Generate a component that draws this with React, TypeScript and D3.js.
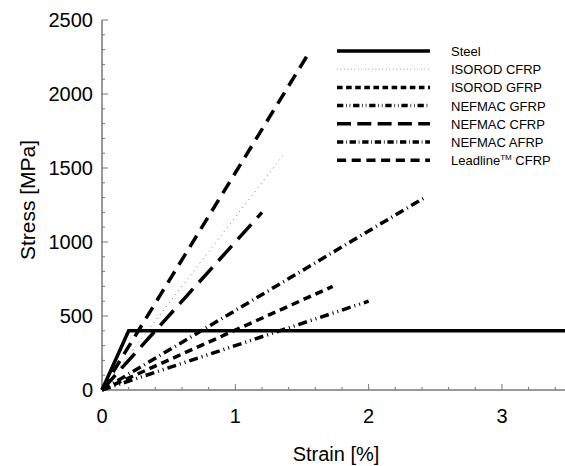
import { useRef, useEffect } from 'react';
import * as d3 from 'd3';

// series: [strain %, stress MPa]
const seriesNames = ['Steel', 'ISOROD CFRP', 'ISOROD GFRP', 'NEFMAC GFRP', 'NEFMAC CFRP', 'NEFMAC AFRP', 'Leadline CFRP'];
const steel = [[0, 0], [0.2, 400], [3.5, 400]];
const isorodCfrp = [[0, 0], [1.37, 1600]];
const isorodGfrp = [[0, 0], [1.73, 700]];
const nefmacGfrp = [[0, 0], [2.0, 600]];
const nefmacCfrp = [[0, 0], [1.2, 1200]];
const nefmacAfrp = [[0, 0], [2.42, 1300]];
const leadlineCfrp = [[0, 0], [1.54, 2260]];
const xTicks = [0, 1, 2, 3];
const yTicks = [0, 500, 1000, 1500, 2000, 2500];

const styles = [
  { w: 3.5, dash: '', color: '#000' },
  { w: 1, dash: '1,4', color: '#777' },
  { w: 3.5, dash: '8,5', color: '#000' },
  { w: 3.5, dash: '9,4,1,4,1,4', color: '#000' },
  { w: 3.5, dash: '20,9', color: '#000' },
  { w: 3.5, dash: '9,4,1,4', color: '#000' },
  { w: 3.5, dash: '13,8', color: '#000' },
];

function App() {
  const ref = useRef<SVGSVGElement>(null);

  useEffect(() => {
    const svg = d3.select(ref.current);
    svg.selectAll('*').remove();
    const font = 'Liberation Sans, Arial, sans-serif';

    const x = d3.scaleLinear().domain([0, 3.473]).range([102, 565]);
    const y = d3.scaleLinear().domain([0, 2500]).range([390, 20]);
    const axisColor = '#777';

    // axes lines
    svg.append('line').attr('x1', 102).attr('x2', 565).attr('y1', 390).attr('y2', 390)
      .attr('stroke', axisColor).attr('stroke-width', 1.5);
    svg.append('line').attr('x1', 102).attr('x2', 102).attr('y1', 20).attr('y2', 390)
      .attr('stroke', axisColor).attr('stroke-width', 1.5);

    // x ticks (inward)
    d3.range(0, 3.5, 0.2).forEach(v => {
      const major = Math.abs(v - Math.round(v)) < 1e-6;
      svg.append('line').attr('x1', x(v)).attr('x2', x(v)).attr('y1', 390).attr('y2', major ? 384 : 387)
        .attr('stroke', axisColor).attr('stroke-width', 1);
    });
    xTicks.forEach(v => {
      svg.append('text').attr('x', x(v)).attr('y', 423).attr('text-anchor', 'middle')
        .attr('font-family', font).attr('font-size', 20).text(v);
    });
    d3.range(0, 2501, 100).forEach(v => {
      const major = v % 500 === 0;
      svg.append('line').attr('x1', 102).attr('x2', major ? 108 : 105).attr('y1', y(v)).attr('y2', y(v))
        .attr('stroke', axisColor).attr('stroke-width', 1);
    });
    yTicks.forEach(v => {
      svg.append('text').attr('x', 93).attr('y', y(v) + 7).attr('text-anchor', 'end')
        .attr('font-family', font).attr('font-size', 20).text(v);
    });

    svg.append('text').attr('x', 336).attr('y', 461).attr('text-anchor', 'middle')
      .attr('font-family', font).attr('font-size', 20).text('Strain [%]');
    svg.append('text').attr('transform', 'translate(35,200) rotate(-90)').attr('text-anchor', 'middle')
      .attr('font-family', font).attr('font-size', 21).text('Stress [MPa]');

    const line = d3.line<number[]>().x(d => x(d[0])).y(d => y(d[1]));
    const data = [steel, isorodCfrp, isorodGfrp, nefmacGfrp, nefmacCfrp, nefmacAfrp, leadlineCfrp];
    data.forEach((d, i) => {
      const s = styles[i];
      svg.append('path').attr('d', line(d)).attr('fill', 'none')
        .attr('stroke', s.color).attr('stroke-width', s.w)
        .attr('stroke-dasharray', s.dash || null);
    });

    // legend
    const lg = svg.append('g');
    seriesNames.forEach((name, i) => {
      const s = styles[i];
      const ly = 51 + i * 18.2;
      lg.append('line').attr('x1', 337).attr('x2', 430).attr('y1', ly).attr('y2', ly)
        .attr('stroke', s.color).attr('stroke-width', s.w)
        .attr('stroke-dasharray', s.dash ? s.dash.split(',').map(n => +n * 0.7).join(',') : null);
      const t = lg.append('text').attr('x', 451).attr('y', ly + 5)
        .attr('font-family', font).attr('font-size', 13);
      if (name.startsWith('Leadline')) {
        t.append('tspan').text('Leadline');
        t.append('tspan').attr('dy', -5).attr('font-size', 8).text('TM');
        t.append('tspan').attr('dy', 5).text(' CFRP');
      } else {
        t.text(name);
      }
    });
  }, []);

  return (
    <svg ref={ref} width={565} height={466}
      style={{ position: 'absolute', left: 0, top: 0, background: '#fff' }} />
  );
}

export default App;
